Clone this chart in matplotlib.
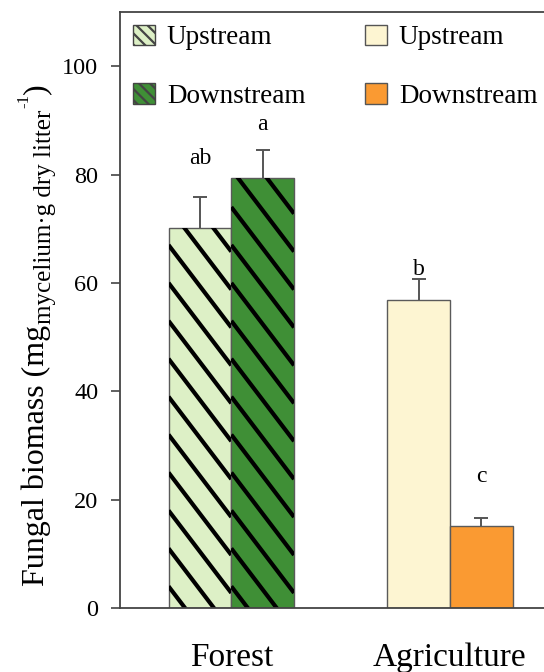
import numpy as np
import matplotlib
matplotlib.use("Agg")
import matplotlib.pyplot as plt
from matplotlib.patches import Patch
from matplotlib.transforms import IdentityTransform

plt.rcParams['font.family'] = ['Liberation Serif', 'DejaVu Serif']
plt.rcParams['hatch.linewidth'] = 1.6

# land use groups and the two sampling sites in each
groups = ['Forest', 'Agriculture']
sites = ['Upstream', 'Downstream']
biomass = [[70.2, 79.3], [56.8, 15.2]]
errors = [[5.6, 5.2], [3.9, 1.4]]
letters = [['ab', 'a'], ['b', 'c']]
letter_y = [[83.0, 89.3], [62.4, 24.2]]

colors = [['#ddf0c6', '#3f8f36'], ['#fdf5d2', '#fa9a32']]
hatched = [True, False]

fig = plt.figure(figsize=(5.44, 6.72), dpi=100)
ax = fig.add_axes([120 / 544, 64 / 672, 1.0 - 120 / 544 + 0.02, 596 / 672])

width = 0.287
x = np.arange(len(groups))
bars = []
for g in range(len(groups)):
    for s in range(len(sites)):
        xpos = x[g] + (s - 0.5) * width
        b = ax.bar(xpos, biomass[g][s], width, color=colors[g][s],
                   edgecolor='#5a5a5a', linewidth=1.0, zorder=2)[0]
        bars.append((b, hatched[g]))
        eb = ax.errorbar(xpos, biomass[g][s], yerr=[[0], [errors[g][s]]],
                         fmt='none', ecolor='#555555', elinewidth=1.4,
                         capsize=5, capthick=1.4, zorder=3)
        eb[1][0].set_visible(False)  # only the upper cap
        ax.text(xpos, letter_y[g][s], letters[g][s], ha='center',
                va='center', fontsize=17)

ax.set_xlim(-0.509, 1.48)
ax.set_ylim(0, 110)

# thick diagonal stripes on the forest bars, clipped to each bar
slope = -53.0
step = 7.0
for b, h in bars:
    if not h:
        continue
    x0, x1 = b.get_x(), b.get_x() + b.get_width()
    top = b.get_height()
    xs = np.array([x0, x1])
    for c in np.arange(-10, top + 30, step):
        ys = c + slope * (xs - x0)
        ln, = ax.plot(xs, ys, color='black', lw=3.0, solid_capstyle='butt',
                      zorder=2.5)
        ln.set_clip_path(b)

ax.set_yticks([0, 20, 40, 60, 80, 100])
ax.tick_params(axis='y', direction='out', length=6.5, width=1.2,
               labelsize=17.5, pad=9, color='#444444')
ax.set_xticks(x)
ax.set_xticklabels(groups, fontsize=24)
ax.tick_params(axis='x', length=0, pad=25)
for sp in ['left', 'bottom', 'top', 'right']:
    ax.spines[sp].set_color('#444444')
    ax.spines[sp].set_linewidth(1.3)

# y label built from pieces so the subscript keeps a readable size
label_parts = [
    ('Fungal biomass (mg', 23, 0),
    ('mycelium\u00b7g dry litter', 18, 7),
    ('-1', 12, -16),
    (')', 23, 0),
]
renderer = fig.canvas.get_renderer()
base_x = 44
pos_y = 672 - 586
for txt, size, shift in label_parts:
    t = fig.text(base_x + shift, pos_y, txt, rotation=90,
                 rotation_mode='anchor', ha='left', va='baseline',
                 fontsize=size, transform=IdentityTransform())
    pos_y += t.get_window_extent(renderer).height + 1

handles = [
    Patch(facecolor=colors[0][0], edgecolor='#444444', hatch='\\\\\\'),
    Patch(facecolor=colors[0][1], edgecolor='#444444', hatch='\\\\\\'),
    Patch(facecolor=colors[1][0], edgecolor='#555555'),
    Patch(facecolor=colors[1][1], edgecolor='#555555'),
]
labels = sites + sites
ax.legend(handles, labels, ncol=2, loc='upper left',
          bbox_to_anchor=(0.005, 0.997), frameon=False, fontsize=19.5,
          handlelength=0.8, handleheight=0.8, handletextpad=0.45,
          labelspacing=1.2, columnspacing=2.2, borderaxespad=0.1,
          borderpad=0.3)

fig.savefig('out.png', dpi=100)
